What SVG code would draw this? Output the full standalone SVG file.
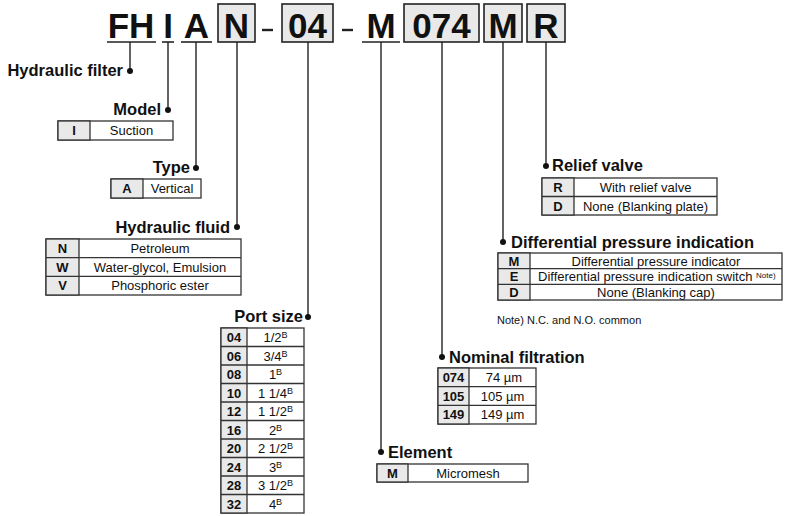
<svg xmlns="http://www.w3.org/2000/svg" width="788" height="516" viewBox="0 0 788 516">
<style>
.big{font-family:"Liberation Sans",Arial,sans-serif;font-weight:bold;font-size:35px;fill:#111;text-anchor:middle}
.box{fill:#e9e9e9;stroke:#222;stroke-width:1.6}
.ul{stroke:#222;stroke-width:1.6}
.dash{stroke:#222;stroke-width:2.4}
.ln{stroke:#222;stroke-width:1.4;fill:none}
.dot{fill:#111}
.lab{font-family:"Liberation Sans",Arial,sans-serif;font-weight:bold;font-size:16.5px;fill:#111}
.cell{fill:#fff;stroke:#333;stroke-width:1.3}
.code{fill:#e9e9e9;stroke:#333;stroke-width:1.3}
.ct{font-family:"Liberation Sans",Arial,sans-serif;font-weight:bold;font-size:13px;fill:#111;text-anchor:middle}
.t{font-family:"Liberation Sans",Arial,sans-serif;font-size:13px;fill:#111;text-anchor:middle}
.ts{font-family:"Liberation Sans",Arial,sans-serif;font-size:13px;fill:#111;text-anchor:start}
.sup{font-size:9px}
.note{font-family:"Liberation Sans",Arial,sans-serif;font-size:11px;fill:#111}
</style>
<g id="code">
<text class="big" x="131" y="38">FH</text>
<line class="ul" x1="107" y1="42" x2="156" y2="42"/>
<text class="big" x="168" y="38">I</text>
<line class="ul" x1="162" y1="42" x2="174" y2="42"/>
<text class="big" x="196.5" y="38">A</text>
<line class="ul" x1="181" y1="42" x2="212" y2="42"/>
<rect class="box" x="218" y="4" width="37" height="38"/>
<text class="big" x="236.5" y="38">N</text>
<line class="dash" x1="262" y1="30" x2="273" y2="30"/>
<rect class="box" x="282" y="4" width="51" height="38"/>
<text class="big" x="307.5" y="38">04</text>
<line class="dash" x1="342" y1="30" x2="353" y2="30"/>
<text class="big" x="381" y="38">M</text>
<line class="ul" x1="362" y1="42" x2="400" y2="42"/>
<rect class="box" x="404" y="4" width="75" height="38"/>
<text class="big" x="441.5" y="38">074</text>
<rect class="box" x="484" y="4" width="38" height="38"/>
<text class="big" x="503" y="38">M</text>
<rect class="box" x="527" y="4" width="38" height="38"/>
<text class="big" x="546" y="38">R</text>
</g>
<g id="connectors">
<line class="ln" x1="130" y1="42" x2="130" y2="71"/><circle class="dot" cx="130" cy="71" r="3"/>
<line class="ln" x1="168" y1="42" x2="168" y2="110"/><circle class="dot" cx="168" cy="110" r="3"/>
<line class="ln" x1="196" y1="42" x2="196" y2="168"/><circle class="dot" cx="196" cy="168" r="3"/>
<line class="ln" x1="237" y1="42" x2="237" y2="227"/><circle class="dot" cx="237" cy="227" r="3"/>
<line class="ln" x1="308" y1="42" x2="308" y2="317"/><circle class="dot" cx="308" cy="317" r="3"/>
<line class="ln" x1="381" y1="42" x2="381" y2="452"/><circle class="dot" cx="381" cy="452" r="3"/>
<line class="ln" x1="442" y1="42" x2="442" y2="357"/><circle class="dot" cx="442" cy="357" r="3"/>
<line class="ln" x1="503" y1="42" x2="503" y2="242"/><circle class="dot" cx="503" cy="242" r="3"/>
<line class="ln" x1="546" y1="42" x2="546" y2="166"/><circle class="dot" cx="546" cy="166" r="3"/>
</g>
<g id="hydraulic-filter">
<text class="lab" x="123" y="76" text-anchor="end">Hydraulic filter</text>
</g>
<g id="model">
<text class="lab" x="161" y="115" text-anchor="end">Model</text>
<rect class="cell" x="58" y="121" width="115" height="19"/>
<rect class="code" x="58" y="121" width="32" height="19"/>
<text class="ct" x="74" y="135">I</text>
<text class="t" x="131.5" y="135">Suction</text>
</g>
<g id="type">
<text class="lab" x="190" y="173" text-anchor="end">Type</text>
<rect class="cell" x="111" y="179" width="90" height="19"/>
<rect class="code" x="111" y="179" width="32" height="19"/>
<text class="ct" x="127" y="193">A</text>
<text class="t" x="172" y="193">Vertical</text>
</g>
<g id="hydraulic-fluid">
<text class="lab" x="230" y="233" text-anchor="end">Hydraulic fluid</text>
<rect class="cell" x="46" y="239" width="195" height="56"/>
<rect class="code" x="46" y="239" width="33" height="56"/>
<line class="cell" x1="46" y1="257.7" x2="241" y2="257.7"/>
<line class="cell" x1="46" y1="276.3" x2="241" y2="276.3"/>
<text class="ct" x="62.5" y="253">N</text><text class="t" x="160" y="253">Petroleum</text>
<text class="ct" x="62.5" y="271.5">W</text><text class="t" x="160" y="271.5">Water-glycol, Emulsion</text>
<text class="ct" x="62.5" y="290">V</text><text class="t" x="160" y="290">Phosphoric ester</text>
</g>
<g id="port-size">
<text class="lab" x="303" y="322" text-anchor="end">Port size</text>
<rect class="cell" x="221" y="328" width="83" height="185"/>
<rect class="code" x="221" y="328" width="26" height="185"/>
<g class="cell">
<line x1="221" y1="346.5" x2="304" y2="346.5"/><line x1="221" y1="365" x2="304" y2="365"/>
<line x1="221" y1="383.5" x2="304" y2="383.5"/><line x1="221" y1="402" x2="304" y2="402"/>
<line x1="221" y1="420.5" x2="304" y2="420.5"/><line x1="221" y1="439" x2="304" y2="439"/>
<line x1="221" y1="457.5" x2="304" y2="457.5"/><line x1="221" y1="476" x2="304" y2="476"/>
<line x1="221" y1="494.5" x2="304" y2="494.5"/>
</g>
<text class="ct" x="234" y="342">04</text><text class="t" x="275.5" y="342">1/2<tspan class="sup" dy="-4">B</tspan></text>
<text class="ct" x="234" y="360.5">06</text><text class="t" x="275.5" y="360.5">3/4<tspan class="sup" dy="-4">B</tspan></text>
<text class="ct" x="234" y="379">08</text><text class="t" x="275.5" y="379">1<tspan class="sup" dy="-4">B</tspan></text>
<text class="ct" x="234" y="397.5">10</text><text class="t" x="275.5" y="397.5">1 1/4<tspan class="sup" dy="-4">B</tspan></text>
<text class="ct" x="234" y="416">12</text><text class="t" x="275.5" y="416">1 1/2<tspan class="sup" dy="-4">B</tspan></text>
<text class="ct" x="234" y="434.5">16</text><text class="t" x="275.5" y="434.5">2<tspan class="sup" dy="-4">B</tspan></text>
<text class="ct" x="234" y="453">20</text><text class="t" x="275.5" y="453">2 1/2<tspan class="sup" dy="-4">B</tspan></text>
<text class="ct" x="234" y="471.5">24</text><text class="t" x="275.5" y="471.5">3<tspan class="sup" dy="-4">B</tspan></text>
<text class="ct" x="234" y="490">28</text><text class="t" x="275.5" y="490">3 1/2<tspan class="sup" dy="-4">B</tspan></text>
<text class="ct" x="234" y="508.5">32</text><text class="t" x="275.5" y="508.5">4<tspan class="sup" dy="-4">B</tspan></text>
</g>
<g id="element">
<text class="lab" x="388" y="458">Element</text>
<rect class="cell" x="377" y="464" width="151" height="18"/>
<rect class="code" x="377" y="464" width="31" height="18"/>
<text class="ct" x="392.5" y="477.5">M</text>
<text class="t" x="468" y="477.5">Micromesh</text>
</g>
<g id="nominal-filtration">
<text class="lab" x="449" y="363">Nominal filtration</text>
<rect class="cell" x="438" y="368" width="98" height="56"/>
<rect class="code" x="438" y="368" width="31" height="56"/>
<line class="cell" x1="438" y1="386.7" x2="536" y2="386.7"/>
<line class="cell" x1="438" y1="405.3" x2="536" y2="405.3"/>
<text class="ct" x="453.5" y="382">074</text><text class="t" x="504" y="382">74 µm</text>
<text class="ct" x="453.5" y="400.5">105</text><text class="t" x="502.5" y="400.5">105 µm</text>
<text class="ct" x="453.5" y="419">149</text><text class="t" x="502.5" y="419">149 µm</text>
</g>
<g id="differential-pressure">
<text class="lab" x="511" y="248">Differential pressure indication</text>
<rect class="cell" x="498" y="253" width="284" height="47"/>
<rect class="code" x="498" y="253" width="32" height="47"/>
<line class="cell" x1="498" y1="268.7" x2="782" y2="268.7"/>
<line class="cell" x1="498" y1="284.3" x2="782" y2="284.3"/>
<text class="ct" x="514" y="265.5">M</text><text class="t" x="656" y="265.5">Differential pressure indicator</text>
<text class="ct" x="514" y="281">E</text><text class="ts" x="538" y="281">Differential pressure indication switch <tspan font-size="8px" dy="-3">Note)</tspan></text>
<text class="ct" x="514" y="296.8">D</text><text class="t" x="656" y="296.8">None (Blanking cap)</text>
<text class="note" x="497" y="324">Note) N.C. and N.O. common</text>
</g>
<g id="relief-valve">
<text class="lab" x="552" y="171">Relief valve</text>
<rect class="cell" x="542" y="178" width="175" height="37"/>
<rect class="code" x="542" y="178" width="32" height="37"/>
<line class="cell" x1="542" y1="196.5" x2="717" y2="196.5"/>
<text class="ct" x="558" y="192">R</text><text class="t" x="645.5" y="192">With relief valve</text>
<text class="ct" x="558" y="210.5">D</text><text class="t" x="645.5" y="210.5">None (Blanking plate)</text>
</g>
</svg>
